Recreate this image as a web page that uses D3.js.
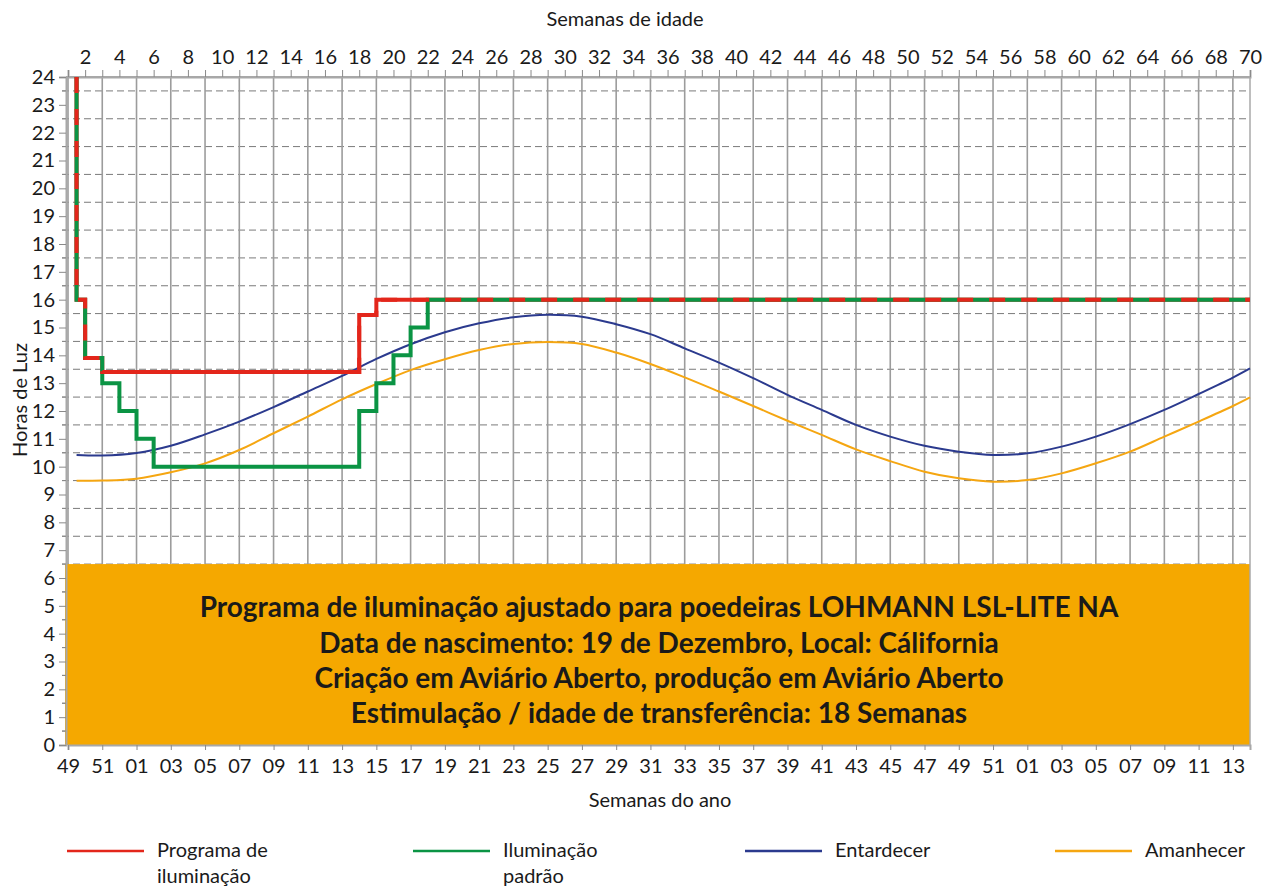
<!DOCTYPE html>
<html><head><meta charset="utf-8">
<script src="https://cdn.jsdelivr.net/npm/d3@7"></script>
<style>
body{margin:0;background:#fff;}
text{font-family:Lato,"Open Sans",sans-serif;fill:#1a1a1a;}
</style>
</head><body>
<svg id="c" width="1270" height="886"></svg>
<script>
// ---------- DATA ----------
const topTickLabels = [2,4,6,8,10,12,14,16,18,20,22,24,26,28,30,32,34,36,38,40,42,44,46,48,50,52,54,56,58,60,62,64,66,68,70];
const bottomTickAges = [1,3,5,7,9,11,13,15,17,19,21,23,25,27,29,31,33,35,37,39,41,43,45,47,49,51,53,55,57,59,61,63,65,67,69];
const bottomTickLabels = ["49","51","01","03","05","07","09","11","13","15","17","19","21","23","25","27","29","31","33","35","37","39","41","43","45","47","49","51","01","03","05","07","09","11","13"];
const hourTicks = [0,1,2,3,4,5,6,7,8,9,10,11,12,13,14,15,16,17,18,19,20,21,22,23,24];

// Programa de iluminação (step, value holds from age until next age)
const progAges  = [1.5, 1.5, 2, 3, 18, 19, 70];
const progHours = [24, 16, 13.9, 13.4, 15.45, 16, 16];
// Iluminação padrão
const stdAges  = [1.5, 1.5, 2, 3, 4, 5, 6, 18, 19, 20, 21, 22, 70];
const stdHours = [24, 16, 13.9, 13, 12, 11, 10, 12, 13, 14, 15, 16, 16];

// Natural curves
const sunAges = [1.5,3,5,7,9,11,13,15,17,19,21,23,25,27,29,31,33,35,37,39,41,43,45,47,49,51,53,55,57,59,61,63,65,67,69,70];
const entardecer = [10.42,10.40,10.49,10.75,11.16,11.62,12.14,12.70,13.26,13.87,14.40,14.83,15.15,15.37,15.46,15.39,15.12,14.76,14.25,13.74,13.18,12.58,12.04,11.50,11.08,10.75,10.54,10.42,10.48,10.72,11.08,11.53,12.04,12.61,13.20,13.53];
const amanhecer  = [9.49,9.50,9.57,9.80,10.12,10.60,11.20,11.80,12.42,12.97,13.47,13.86,14.19,14.41,14.48,14.41,14.10,13.69,13.21,12.70,12.18,11.65,11.14,10.62,10.20,9.82,9.58,9.46,9.52,9.76,10.12,10.54,11.08,11.62,12.18,12.49];

const infoLines = [
  "Programa de iluminação ajustado para poedeiras LOHMANN LSL-LITE NA",
  "Data de nascimento: 19 de Dezembro, Local: Cálifornia",
  "Criação em Aviário Aberto, produção em Aviário Aberto",
  "Estimulação / idade de transferência: 18 Semanas"
];
const infoBoxTop = 6.5;

const legendItems = [
  {lines:["Programa de","iluminação"], color:"#e3261b", x:67},
  {lines:["Iluminação","padrão"], color:"#0b9444", x:413},
  {lines:["Entardecer"], color:"#2b3a8e", x:745},
  {lines:["Amanhecer"], color:"#f5a611", x:1055}
];

// ---------- CHART ----------
const svg = d3.select("#c");
const x = d3.scaleLinear().domain([1,70]).range([68,1250]);
const y = d3.scaleLinear().domain([0,24]).range([745,77]);
const RED="#e3261b", GREEN="#0b9444", BLUE="#2b3a8e", ORANGE="#f5a611", BOX="#f5a800";

// horizontal dashed gridlines at half hours
const halfs = d3.range(0,24).map(d=>d+0.5);
svg.append("g").selectAll("line").data(halfs).join("line")
  .attr("x1",62).attr("x2",x(70)).attr("y1",d=>y(d)).attr("y2",d=>y(d))
  .attr("stroke","#7a7a7a").attr("stroke-width",1).attr("stroke-dasharray","7,4");

// vertical gridlines
svg.append("g").selectAll("line").data(bottomTickAges).join("line")
  .attr("x1",d=>x(d)).attr("x2",d=>x(d)).attr("y1",y(24)).attr("y2",y(infoBoxTop))
  .attr("stroke","#9c9c9c").attr("stroke-width",1.6);

// info box
svg.append("rect").attr("x",65).attr("y",y(infoBoxTop)).attr("width",x(70)-65).attr("height",y(0)-y(infoBoxTop))
  .attr("fill",BOX);

// plot frame lines
svg.append("line").attr("x1",66).attr("x2",x(70)).attr("y1",y(24)).attr("y2",y(24)).attr("stroke","#a8a8a8").attr("stroke-width",2);
svg.append("line").attr("x1",x(70)).attr("x2",x(70)).attr("y1",y(24)).attr("y2",y(0)).attr("stroke","#a8a8a8").attr("stroke-width",1.5);

// left axis
const gL = svg.append("g").attr("transform","translate(66,0)")
  .call(d3.axisLeft(y).tickValues(hourTicks).tickSize(7).tickPadding(4).tickFormat(d3.format("d")));
// minor ticks
svg.append("g").selectAll("line").data(halfs).join("line")
  .attr("x1",62).attr("x2",66).attr("y1",d=>y(d)).attr("y2",d=>y(d)).attr("stroke","#8a8a8a");

// top axis
const weekAges = d3.range(1,71);
const gT = svg.append("g").attr("transform",`translate(0,${y(24)})`)
  .call(d3.axisTop(x).tickValues(weekAges).tickSize(7).tickPadding(6)
    .tickFormat(d=> topTickLabels.includes(d) ? d : ""));

// bottom axis
const gB = svg.append("g").attr("transform",`translate(0,${y(0)})`)
  .call(d3.axisBottom(x).tickValues(bottomTickAges).tickSize(5).tickPadding(9)
    .tickFormat((d,i)=>bottomTickLabels[i]));

[gL,gT,gB].forEach(g=>{
  g.select(".domain").attr("stroke","#a8a8a8").attr("stroke-width",2);
  g.selectAll(".tick line").attr("stroke","#8a8a8a");
  g.selectAll(".tick text").style("font-size","20px").style("font-family","Lato").attr("fill","#1a1a1a");
});

// lines
const stepLine = d3.line().x(d=>x(d[0])).y(d=>y(d[1])).curve(d3.curveStepAfter);
const smooth = d3.line().x(d=>x(d[0])).y(d=>y(d[1])).curve(d3.curveCatmullRom.alpha(0.5));
const progPts = progAges.map((a,i)=>[a,progHours[i]]);
const stdPts = stdAges.map((a,i)=>[a,stdHours[i]]);

svg.append("path").attr("d",smooth(sunAges.map((a,i)=>[a,amanhecer[i]])))
  .attr("fill","none").attr("stroke",ORANGE).attr("stroke-width",2);
svg.append("path").attr("d",smooth(sunAges.map((a,i)=>[a,entardecer[i]])))
  .attr("fill","none").attr("stroke",BLUE).attr("stroke-width",2);

svg.append("path").attr("d",stepLine(progPts)).attr("fill","none").attr("stroke",RED).attr("stroke-width",4);
svg.append("path").attr("d",stepLine(stdPts)).attr("fill","none").attr("stroke",GREEN).attr("stroke-width",4);
svg.append("path").attr("d",stepLine(progPts)).attr("fill","none").attr("stroke",RED).attr("stroke-width",4)
  .attr("stroke-dasharray","16,16");

// info text
const cx = (x(1)+x(70))/2;
const baselines = [617, 652.5, 688, 723];
const info = svg.append("g");
const tx = info.selectAll("text").data(infoLines).join("text")
  .attr("x",cx).attr("y",(d,i)=>baselines[i]).attr("text-anchor","middle")
  .style("font-weight","bold").style("font-size","24px").attr("fill","#111").text(d=>d);
const w0 = tx.nodes()[0].getComputedTextLength();
const fs = 24*919/w0;
tx.style("font-size",fs+"px");

// axis titles
svg.append("text").attr("x",625).attr("y",26).attr("text-anchor","middle").style("font-size","20px").text("Semanas de idade");
svg.append("text").attr("x",660).attr("y",807).attr("text-anchor","middle").style("font-size","20px").text("Semanas do ano");
svg.append("text").attr("transform","translate(27,400) rotate(-90)").attr("text-anchor","middle").style("font-size","20px").text("Horas de Luz");

// legend
const lg = svg.append("g");
legendItems.forEach(it=>{
  lg.append("line").attr("x1",it.x).attr("x2",it.x+77).attr("y1",851).attr("y2",851)
    .attr("stroke",it.color).attr("stroke-width",2.5);
  it.lines.forEach((t,j)=>{
    lg.append("text").attr("x",it.x+90).attr("y",857+j*26).style("font-size","20px").text(t);
  });
});
</script>
</body></html>
